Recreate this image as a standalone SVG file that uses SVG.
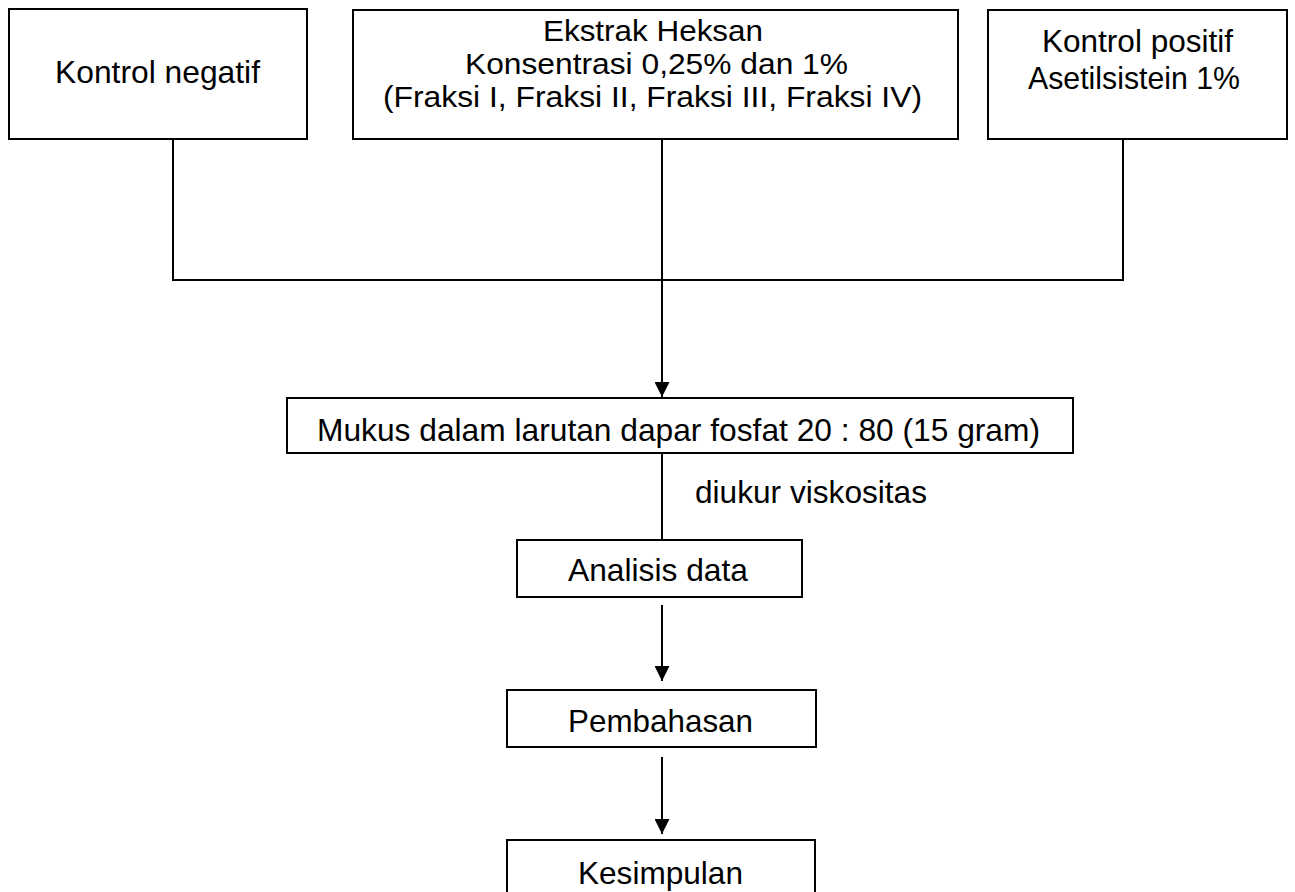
<svg xmlns="http://www.w3.org/2000/svg" width="1295" height="892" viewBox="0 0 1295 892">
<style>
.box{fill:#fff;stroke:#000;stroke-width:2}
.t{font-family:"Liberation Sans",Arial,sans-serif;font-size:31.5px;fill:#000;text-anchor:middle}
.s{font-size:29px}
.c{fill:none;stroke:#000;stroke-width:2}
</style>
<defs>
<marker id="arr" markerWidth="15" markerHeight="15" refX="15" refY="7.5" orient="auto" markerUnits="userSpaceOnUse">
<path d="M0,0 L15,7.5 L0,15 Z" fill="#000"/>
</marker>
</defs>
<rect width="1295" height="892" fill="#fff"/>
<g id="connectors">
<line class="c" x1="173" y1="139" x2="173" y2="280"/>
<line class="c" x1="1123" y1="139" x2="1123" y2="280"/>
<line class="c" x1="172" y1="280" x2="1124" y2="280"/>
<line class="c" x1="662" y1="139" x2="662" y2="397" marker-end="url(#arr)"/>
<line class="c" x1="662" y1="453" x2="662" y2="540"/>
<line class="c" x1="662" y1="605" x2="662" y2="681" marker-end="url(#arr)"/>
<line class="c" x1="662" y1="757" x2="662" y2="834" marker-end="url(#arr)"/>
<text class="t" x="811" y="503" textLength="232" lengthAdjust="spacingAndGlyphs">diukur viskositas</text>
</g>
<g id="kontrol-negatif">
<rect class="box" x="9" y="9" width="298" height="130"/>
<text class="t" x="157.5" y="83" textLength="205" lengthAdjust="spacingAndGlyphs">Kontrol negatif</text>
</g>
<g id="ekstrak-heksan">
<rect class="box" x="353" y="10" width="605" height="129"/>
<text class="t s" x="653" y="41" textLength="220" lengthAdjust="spacingAndGlyphs">Ekstrak Heksan</text>
<text class="t s" x="656.5" y="74" textLength="383" lengthAdjust="spacingAndGlyphs">Konsentrasi 0,25% dan 1%</text>
<text class="t s" x="652.5" y="107" textLength="539" lengthAdjust="spacingAndGlyphs">(Fraksi I, Fraksi II, Fraksi III, Fraksi IV)</text>
</g>
<g id="kontrol-positif">
<rect class="box" x="988" y="10" width="299" height="129"/>
<text class="t" x="1137.5" y="52" textLength="191" lengthAdjust="spacingAndGlyphs">Kontrol positif</text>
<text class="t" x="1134" y="89" textLength="212" lengthAdjust="spacingAndGlyphs">Asetilsistein 1%</text>
</g>
<g id="mukus">
<rect class="box" x="287" y="398" width="786" height="55"/>
<text class="t" x="678.5" y="441" textLength="723" lengthAdjust="spacingAndGlyphs">Mukus dalam larutan dapar fosfat 20 : 80 (15 gram)</text>
</g>
<g id="analisis-data">
<rect class="box" x="517" y="540" width="285" height="57"/>
<text class="t" x="658" y="581" textLength="180" lengthAdjust="spacingAndGlyphs">Analisis data</text>
</g>
<g id="pembahasan">
<rect class="box" x="507" y="690" width="309" height="57"/>
<text class="t" x="660.5" y="732" textLength="185" lengthAdjust="spacingAndGlyphs">Pembahasan</text>
</g>
<g id="kesimpulan">
<rect class="box" x="507" y="840" width="308" height="70"/>
<text class="t" x="660.5" y="884" textLength="165" lengthAdjust="spacingAndGlyphs">Kesimpulan</text>
</g>
</svg>
